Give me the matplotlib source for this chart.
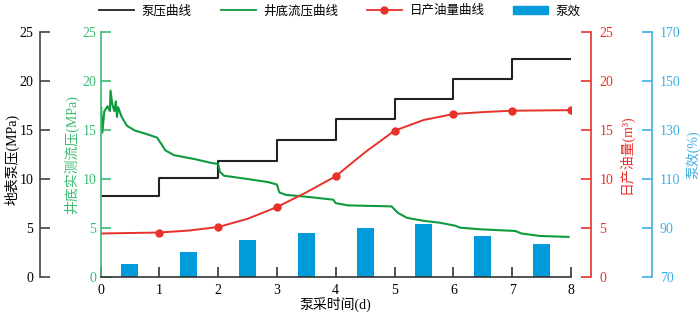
import matplotlib
matplotlib.use("Agg")
import matplotlib.pyplot as plt
from matplotlib.lines import Line2D
from matplotlib.patches import Patch

plt.rcParams['font.family'] = ['Liberation Serif', 'Noto Sans CJK SC']
plt.rcParams['axes.unicode_minus'] = False

# pump pressure steps (MPa), one level per day
step_edges = [0, 1, 2, 3, 4, 5, 6, 7, 8]
pump_pressure = [8.2, 10.1, 11.8, 13.9, 16.05, 18.15, 20.15, 22.2]

# bottom-hole flowing pressure (MPa)
bhp_t = [0.0, 0.01, 0.03, 0.065, 0.12, 0.16, 0.17, 0.2, 0.235, 0.26, 0.28, 0.30,
         0.36, 0.45, 0.59, 0.76, 0.96, 1.04, 1.1, 1.25, 1.6, 1.89, 2.0, 2.03,
         2.1, 2.46, 2.85, 3.0, 3.04, 3.15, 3.59, 3.96, 4.0, 4.21, 4.95, 5.06,
         5.21, 5.49, 5.77, 6.03, 6.11, 6.45, 7.05, 7.16, 7.47, 7.96]
bhp = [15.5, 17.3, 14.7, 16.9, 17.4, 16.9, 19.0, 17.6, 16.9, 17.9, 16.3, 17.3,
       16.3, 15.4, 14.9, 14.6, 14.2, 13.5, 12.9, 12.4, 12.0, 11.6, 11.5, 10.7,
       10.3, 10.0, 9.65, 9.4, 8.6, 8.35, 8.1, 7.85, 7.5, 7.27, 7.17, 6.5,
       6.0, 5.7, 5.5, 5.2, 5.0, 4.83, 4.66, 4.4, 4.15, 4.05]

# daily oil output (m3)
oil_t = [0, 0.5, 1, 1.5, 2, 2.5, 3, 3.5, 4, 4.5, 5, 5.5, 6, 6.5, 7, 7.5, 8]
oil = [4.4, 4.45, 4.5, 4.7, 5.06, 5.9, 7.1, 8.6, 10.25, 12.7, 14.9, 16.0,
       16.6, 16.8, 16.94, 16.97, 17.0]
oil_day = [1, 2, 3, 4, 5, 6, 7, 8]
oil_day_val = [4.5, 5.06, 7.1, 10.25, 14.9, 16.6, 16.94, 17.0]

# pump efficiency (%)
eff_t = [0.5, 1.5, 2.5, 3.5, 4.5, 5.5, 6.5, 7.5]
eff = [75.1, 80.0, 84.9, 87.6, 90.0, 91.6, 86.5, 83.2]

c_black = '#222222'
c_green = '#0f9a3e'
c_green_ax = '#3dba72'
c_red = '#e8312a'
c_blue = '#009bd8'
c_blue_ax = '#3cb0e4'

fig = plt.figure(figsize=(7, 3.15), dpi=100)
ax = fig.add_axes([0.1436, 0.122, 0.672, 0.777])

fs = 10

# blue efficiency axis (bars)
axb = ax.twinx()
axb.bar(eff_t, eff, width=0.29, color=c_blue)
axb.set_ylim(70, 170)
axb.set_yticks(range(70, 171, 20))
for s in ['top', 'left', 'bottom']:
    axb.spines[s].set_visible(False)
axb.spines['right'].set_position(('axes', 1.1715))
axb.spines['right'].set_color(c_blue_ax)
axb.spines['right'].set_linewidth(1.2)
axb.tick_params(axis='y', direction='in', length=7, width=1.2, color=c_blue_ax,
                labelcolor=c_blue_ax, labelsize=fs, pad=6)
axb.set_ylabel('泵效(%)', color=c_blue_ax, fontsize=fs)
axb.yaxis.set_label_coords(1.243, 0.5)

# red oil axis
axr = ax.twinx()
axr.set_ylim(0, 25)
axr.set_yticks(range(0, 26, 5))
for s in ['top', 'left', 'bottom']:
    axr.spines[s].set_visible(False)
axr.spines['right'].set_position(('axes', 1.0425))
axr.spines['right'].set_color(c_red)
axr.spines['right'].set_linewidth(1.2)
axr.tick_params(axis='y', direction='in', length=7, width=1.2, color=c_red,
                labelcolor=c_red, labelsize=fs, pad=6)
axr.set_ylabel('日产油量(m³)', color=c_red, fontsize=fs)
axr.yaxis.set_label_coords(1.1, 0.5)

# black surface pump pressure axis on far left
axk = ax.twinx()
axk.set_ylim(0, 25)
axk.set_yticks(range(0, 26, 5))
for s in ['top', 'right', 'bottom']:
    axk.spines[s].set_visible(False)
axk.spines['left'].set_visible(True)
axk.spines['left'].set_position(('axes', -0.128))
axk.spines['left'].set_color('#444444')
axk.spines['left'].set_linewidth(1.2)
axk.yaxis.set_ticks_position('left')
axk.yaxis.set_label_position('left')
axk.tick_params(axis='y', direction='in', length=7, width=1.2, color='#444444',
                labelsize=fs, pad=5)
axk.set_ylabel('地表泵压(MPa)', fontsize=fs)
axk.yaxis.set_label_coords(-0.172, 0.48)

# main axis: lines, green scale, time axis
ax.set_zorder(5)
ax.patch.set_visible(False)
ax.step(step_edges, pump_pressure + [pump_pressure[-1]], where='post',
        color=c_black, lw=1.5)
ax.plot(bhp_t, bhp, color=c_green, lw=1.5)
ax.plot(oil_t, oil, color=c_red, lw=1.4)
ax.plot(oil_day, oil_day_val, 'o', color=c_red, ms=5)

ax.set_xlim(0, 8)
ax.set_ylim(0, 25)
ax.set_xticks(range(0, 9))
ax.set_yticks(range(0, 26, 5))
ax.spines['top'].set_visible(False)
ax.spines['right'].set_visible(False)
ax.spines['left'].set_color(c_green_ax)
ax.spines['left'].set_linewidth(1.2)
ax.spines['bottom'].set_color('#333333')
ax.spines['bottom'].set_linewidth(1.2)
ax.tick_params(axis='y', direction='in', length=7, width=1.2, color=c_green_ax,
               labelcolor=c_green_ax, labelsize=fs, pad=3)
ax.tick_params(axis='x', direction='in', length=7, width=1.2, color='#333333',
               labelsize=fs, pad=5)
ax.set_ylabel('井底实测流压(MPa)', color=c_green_ax, fontsize=fs)
ax.yaxis.set_label_coords(-0.046, 0.5)
ax.set_xlabel('泵采时间(d)', fontsize=fs, labelpad=0)

handles = [
    Line2D([], [], color=c_black, lw=1.3),
    Line2D([], [], color=c_green, lw=1.3),
    Line2D([], [], color=c_red, lw=1.3, marker='o', ms=5),
    Patch(color=c_blue),
]
labels = ['泵压曲线', '井底流压曲线', '日产油量曲线', '泵效']
fig.legend(handles, labels, loc='upper left', bbox_to_anchor=(0.126, 1.02),
           ncol=4, frameon=False, fontsize=9, handlelength=2.8,
           columnspacing=2.3, handletextpad=0.6)

fig.savefig('out.png', dpi=100)
